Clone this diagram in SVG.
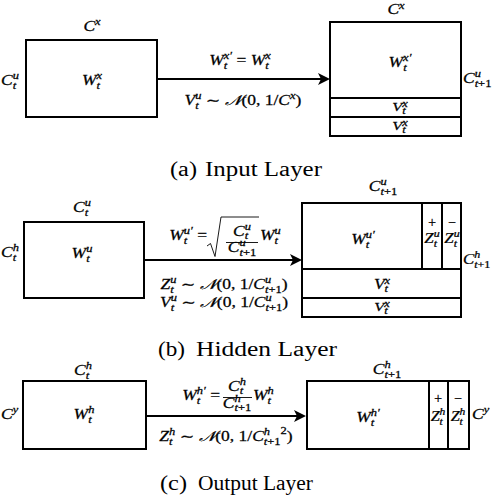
<svg xmlns="http://www.w3.org/2000/svg" width="492" height="496" viewBox="0 0 492 496">
<defs>
<style>
text.m { font-family: "Liberation Serif", "DejaVu Serif", serif; font-style: italic; font-size: 14px; fill: #000; stroke: #000; stroke-width: 0.25; }
text.v { font-size: 13px; }
.s { font-size: 10px; }
.r { font-style: normal; }
.cap { font-family: "Liberation Serif", "DejaVu Serif", serif; font-size: 20px; fill: #000; }
.box { fill: #fff; stroke: #000; stroke-width: 2; }
.dv { stroke: #000; stroke-width: 2; fill: none; }
.thin { stroke: #000; stroke-width: 0.9; fill: none; }
.arr { stroke: #000; stroke-width: 2; fill: none; marker-end: url(#ah); }
</style>
<marker id="ah" markerUnits="userSpaceOnUse" markerWidth="14" markerHeight="14" refX="8" refY="6" orient="auto">
<path d="M0,0 L12,6 L0,12 L3,6 z" fill="#000"/>
</marker>
</defs>
<rect width="492" height="496" fill="#fff"/>

<g id="connectors">
<line class="arr" x1="157" y1="79" x2="326" y2="79"/>
<line class="arr" x1="144" y1="260" x2="298" y2="260"/>
<line class="arr" x1="146" y1="416" x2="302" y2="416"/>
</g>

<!-- Panel (a) -->
<g id="a-left">
<rect class="box" x="26" y="40" width="131" height="77"/>
<text class="m" text-anchor="middle" transform="matrix(1.25 0 0 1 92 31)">C<tspan class="s" dy="-6">x</tspan></text>
<text class="m" transform="matrix(1.25 0 0 1 1 85)">C<tspan class="s" dy="3.5">t</tspan><tspan class="s" dx="-2.8" dy="-9.5">u</tspan></text>
<text class="m" text-anchor="middle" transform="matrix(1.25 0 0 1 92 85)">W<tspan class="s" dy="3.5">t</tspan><tspan class="s" dx="-2.8" dy="-9.5">x</tspan></text>
</g>
<g id="a-label">
<text class="m" text-anchor="middle" transform="matrix(1.25 0 0 1 240 65)">W<tspan class="s" dy="3.5">t</tspan><tspan class="s" dx="-2.8" dy="-9.5">x′</tspan><tspan class="r" dy="6"> = </tspan>W<tspan class="s" dy="3.5">t</tspan><tspan class="s" dx="-2.8" dy="-9.5">x</tspan></text>
<text class="m" text-anchor="middle" transform="matrix(1.25 0 0 1 243 105)">V<tspan class="s" dy="3.5">t</tspan><tspan class="s" dx="-2.8" dy="-9.5">u</tspan><tspan class="r" dy="6"> ∼ </tspan>𝒩<tspan class="r">(0, 1/</tspan>C<tspan class="s" dy="-6">x</tspan><tspan class="r" dy="6">)</tspan></text>
</g>
<g id="a-right">
<rect class="box" x="330" y="22" width="131" height="114"/>
<line class="dv" x1="330" y1="98" x2="461" y2="98"/>
<line class="dv" x1="330" y1="117" x2="461" y2="117"/>
<text class="m" text-anchor="middle" transform="matrix(1.25 0 0 1 396 14)">C<tspan class="s" dy="-5.5">x</tspan></text>
<text class="m" text-anchor="middle" transform="matrix(1.25 0 0 1 400 67)">W<tspan class="s" dy="3.5">t</tspan><tspan class="s" dx="-2.8" dy="-9.5">x′</tspan></text>
<text class="m" transform="matrix(1.25 0 0 1 463 83)">C<tspan class="s" dy="-6">u</tspan><tspan class="s" dx="-5" dy="9.5">t<tspan class="r">+1</tspan></tspan></text>
<text class="m v" text-anchor="middle" transform="matrix(1.25 0 0 1 400 111)">V<tspan class="s" dy="2.5">t</tspan><tspan class="s" dx="-2.8" dy="-7">x</tspan></text>
<text class="m v" text-anchor="middle" transform="matrix(1.25 0 0 1 400 130)">V<tspan class="s" dy="2.5">t</tspan><tspan class="s" dx="-2.8" dy="-7">x</tspan></text>
</g>
<text class="cap" x="170" y="176" textLength="27" lengthAdjust="spacingAndGlyphs">(a)</text>
<text class="cap" x="205" y="176" textLength="117" lengthAdjust="spacingAndGlyphs">Input Layer</text>

<!-- Panel (b) -->
<g id="b-left">
<rect class="box" x="24" y="222" width="120" height="76"/>
<text class="m" text-anchor="middle" transform="matrix(1.25 0 0 1 82 212)">C<tspan class="s" dy="3.5">t</tspan><tspan class="s" dx="-2.8" dy="-9.5">u</tspan></text>
<text class="m" transform="matrix(1.25 0 0 1 1 257)">C<tspan class="s" dy="3.5">t</tspan><tspan class="s" dx="-2.8" dy="-9.5">h</tspan></text>
<text class="m" text-anchor="middle" transform="matrix(1.25 0 0 1 82 258)">W<tspan class="s" dy="3.5">t</tspan><tspan class="s" dx="-2.8" dy="-9.5">u</tspan></text>
</g>
<g id="b-label">
<text class="m" text-anchor="end" transform="matrix(1.25 0 0 1 207 240)">W<tspan class="s" dy="3.5">t</tspan><tspan class="s" dx="-2.8" dy="-9.5">u′</tspan><tspan class="r" dy="6"> =</tspan></text>
<path class="thin" d="M207,246 L210.5,243.5 L215,256.5 L221,217 L259,217" stroke-width="1"/>
<text class="m" text-anchor="middle" transform="matrix(1.25 0 0 1 242 236)">C<tspan class="s" dy="3">t</tspan><tspan class="s" dx="-2.8" dy="-9">u</tspan></text>
<line class="thin" x1="226" y1="242.5" x2="258" y2="242.5"/>
<text class="m" text-anchor="middle" transform="matrix(1.25 0 0 1 242 252)">C<tspan class="s" dy="-6">u</tspan><tspan class="s" dx="-5" dy="9.5">t<tspan class="r">+1</tspan></tspan></text>
<text class="m" transform="matrix(1.25 0 0 1 260 240)">W<tspan class="s" dy="3.5">t</tspan><tspan class="s" dx="-2.8" dy="-9.5">u</tspan></text>
<text class="m" text-anchor="middle" transform="matrix(1.25 0 0 1 224 289)">Z<tspan class="s" dy="3.5">t</tspan><tspan class="s" dx="-2.8" dy="-9.5">u</tspan><tspan class="r" dy="6"> ∼ </tspan>𝒩<tspan class="r">(0, 1/</tspan>C<tspan class="s" dy="-6">u</tspan><tspan class="s" dx="-5" dy="9.5">t<tspan class="r">+1</tspan></tspan><tspan class="r" dy="-3.5">)</tspan></text>
<text class="m" text-anchor="middle" transform="matrix(1.25 0 0 1 224 307)">V<tspan class="s" dy="3.5">t</tspan><tspan class="s" dx="-2.8" dy="-9.5">u</tspan><tspan class="r" dy="6"> ∼ </tspan>𝒩<tspan class="r">(0, 1/</tspan>C<tspan class="s" dy="-6">u</tspan><tspan class="s" dx="-5" dy="9.5">t<tspan class="r">+1</tspan></tspan><tspan class="r" dy="-3.5">)</tspan></text>
</g>
<g id="b-right">
<rect class="box" x="302" y="203" width="159" height="114"/>
<line class="dv" x1="302" y1="269" x2="461" y2="269"/>
<line class="dv" x1="302" y1="298" x2="461" y2="298"/>
<line class="dv" x1="422" y1="203" x2="422" y2="269"/>
<line class="dv" x1="442" y1="203" x2="442" y2="269"/>
<text class="m" text-anchor="middle" transform="matrix(1.25 0 0 1 383 191)">C<tspan class="s" dy="-6">u</tspan><tspan class="s" dx="-5" dy="9.5">t<tspan class="r">+1</tspan></tspan></text>
<text class="m" text-anchor="middle" transform="matrix(1.25 0 0 1 363 244)">W<tspan class="s" dy="3.5">t</tspan><tspan class="s" dx="-2.8" dy="-9.5">u′</tspan></text>
<text class="m r" text-anchor="middle" x="432" y="227">+</text>
<text class="m r" text-anchor="middle" x="452" y="227">−</text>
<text class="m" text-anchor="middle" transform="matrix(1.2 0 0 1 432 243)">Z<tspan class="s" dy="3.5">t</tspan><tspan class="s" dx="-2.8" dy="-9.5">u</tspan></text>
<text class="m" text-anchor="middle" transform="matrix(1.2 0 0 1 452 243)">Z<tspan class="s" dy="3.5">t</tspan><tspan class="s" dx="-2.8" dy="-9.5">u</tspan></text>
<text class="m" transform="matrix(1.2 0 0 1 463 264)">C<tspan class="s" dy="-6">h</tspan><tspan class="s" dx="-5" dy="9.5">t<tspan class="r">+1</tspan></tspan></text>
<text class="m" text-anchor="middle" transform="matrix(1.25 0 0 1 382 289)">V<tspan class="s" dy="3">t</tspan><tspan class="s" dx="-2.8" dy="-8.5">x</tspan></text>
<text class="m v" text-anchor="middle" transform="matrix(1.25 0 0 1 382 311)">V<tspan class="s" dy="2.5">t</tspan><tspan class="s" dx="-2.8" dy="-7">x</tspan></text>
</g>
<text class="cap" x="158" y="356" textLength="27" lengthAdjust="spacingAndGlyphs">(b)</text>
<text class="cap" x="196" y="356" textLength="141" lengthAdjust="spacingAndGlyphs">Hidden Layer</text>

<!-- Panel (c) -->
<g id="c-left">
<rect class="box" x="23" y="381" width="123" height="68"/>
<text class="m" text-anchor="middle" transform="matrix(1.25 0 0 1 83 375)">C<tspan class="s" dy="3.5">t</tspan><tspan class="s" dx="-2.8" dy="-9.5">h</tspan></text>
<text class="m" transform="matrix(1.25 0 0 1 1 419)">C<tspan class="s" dy="-6">y</tspan></text>
<text class="m" text-anchor="middle" transform="matrix(1.25 0 0 1 84 419)">W<tspan class="s" dy="3.5">t</tspan><tspan class="s" dx="-2.8" dy="-9.5">h</tspan></text>
</g>
<g id="c-label">
<text class="m" text-anchor="end" transform="matrix(1.25 0 0 1 220 400)">W<tspan class="s" dy="3.5">t</tspan><tspan class="s" dx="-2.8" dy="-9.5">h′</tspan><tspan class="r" dy="6"> =</tspan></text>
<text class="m" text-anchor="middle" transform="matrix(1.25 0 0 1 237 391)">C<tspan class="s" dy="3">t</tspan><tspan class="s" dx="-2.8" dy="-9">h</tspan></text>
<line class="thin" x1="223" y1="397.5" x2="252" y2="397.5"/>
<text class="m" text-anchor="middle" transform="matrix(1.25 0 0 1 237 408)">C<tspan class="s" dy="-6">h</tspan><tspan class="s" dx="-5" dy="9">t<tspan class="r">+1</tspan></tspan></text>
<text class="m" transform="matrix(1.25 0 0 1 253 400)">W<tspan class="s" dy="3.5">t</tspan><tspan class="s" dx="-2.8" dy="-9.5">h</tspan></text>
<text class="m" text-anchor="middle" transform="matrix(1.25 0 0 1 226 441)">Z<tspan class="s" dy="3.5">t</tspan><tspan class="s" dx="-2.8" dy="-9.5">h</tspan><tspan class="r" dy="6"> ∼ </tspan>𝒩<tspan class="r">(0, 1/</tspan>C<tspan class="s" dy="-6">h</tspan><tspan class="s" dx="-5" dy="9.5">t<tspan class="r">+1</tspan></tspan><tspan class="s r" dy="-11">2</tspan><tspan class="r" dy="7.5">)</tspan></text>
</g>
<g id="c-right">
<rect class="box" x="307" y="381" width="162" height="68"/>
<line class="dv" x1="429" y1="381" x2="429" y2="449"/>
<line class="dv" x1="448" y1="381" x2="448" y2="449"/>
<text class="m" text-anchor="middle" transform="matrix(1.25 0 0 1 387 374)">C<tspan class="s" dy="-6">h</tspan><tspan class="s" dx="-5" dy="9.5">t<tspan class="r">+1</tspan></tspan></text>
<text class="m" text-anchor="middle" transform="matrix(1.25 0 0 1 368 422)">W<tspan class="s" dy="3.5">t</tspan><tspan class="s" dx="-2.8" dy="-9.5">h′</tspan></text>
<text class="m r" text-anchor="middle" x="438" y="403">+</text>
<text class="m r" text-anchor="middle" x="458" y="403">−</text>
<text class="m" text-anchor="middle" transform="matrix(1.15 0 0 1 438 421)">Z<tspan class="s" dy="3.5">t</tspan><tspan class="s" dx="-2.8" dy="-9.5">h</tspan></text>
<text class="m" text-anchor="middle" transform="matrix(1.15 0 0 1 458 421)">Z<tspan class="s" dy="3.5">t</tspan><tspan class="s" dx="-2.8" dy="-9.5">h</tspan></text>
<text class="m" transform="matrix(1.25 0 0 1 472 419)">C<tspan class="s" dy="-6">y</tspan></text>
</g>
<text class="cap" x="160" y="490" textLength="27" lengthAdjust="spacingAndGlyphs">(c)</text>
<text class="cap" x="198" y="490" textLength="115" lengthAdjust="spacingAndGlyphs">Output Layer</text>
</svg>
